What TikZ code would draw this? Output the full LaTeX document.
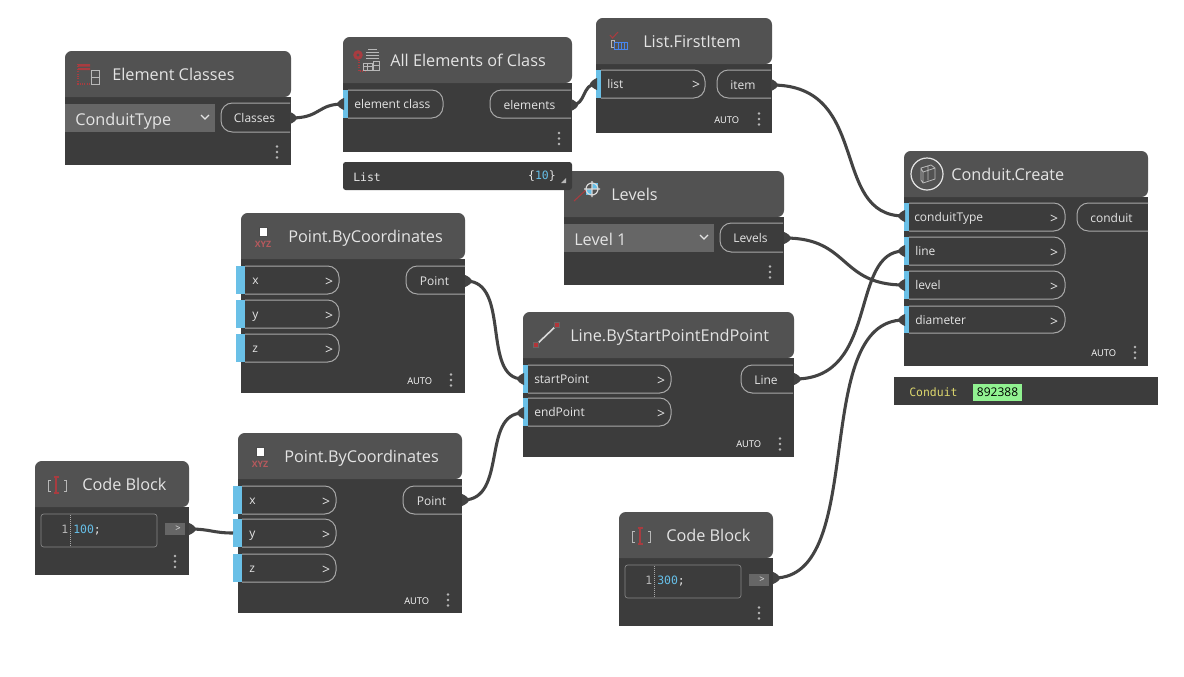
\documentclass[tikz,border=0pt]{standalone}
\usepackage{fontspec}
\setmainfont{Open Sans}
\setmonofont{DejaVu Sans Mono}
\definecolor{bodyc}{HTML}{3C3C3C}
\definecolor{headc}{HTML}{525252}
\definecolor{wirec}{HTML}{434343}
\definecolor{txtc}{HTML}{E4E4E4}
\definecolor{linec}{HTML}{A8A8A8}
\definecolor{barc}{HTML}{6AC0E7}
\definecolor{dropc}{HTML}{666666}
\definecolor{iconred}{HTML}{A83C40}
\definecolor{codeblue}{HTML}{66BFE8}
\definecolor{icongrey}{HTML}{B8B8B8}
\tikzset{
  nbody/.style={fill=bodyc},
  nhead/.style={fill=headc},
  ttl/.style={anchor=base west,inner sep=0pt,text=txtc,font=\fontsize{12.2}{14}\selectfont},
  porttxt/.style={anchor=base west,inner sep=0pt,text=txtc,font=\fontsize{9}{11}\selectfont},
  midtxt/.style={anchor=base,inner sep=0pt,text=txtc,font=\fontsize{9}{11}\selectfont},
  gt/.style={anchor=base,inner sep=0pt,text=txtc,font=\fontsize{10.5}{11}\selectfont},
  autotxt/.style={anchor=base west,inner sep=0pt,text=white,font=\fontsize{7}{9}\selectfont},
  droptxt/.style={anchor=base west,inner sep=0pt,text=txtc,font=\fontsize{12.2}{14}\selectfont},
  pill/.style={draw=linec,line width=.75pt,rounded corners=8.5pt},
  wire/.style={draw=wirec,line width=2.3pt},
  codetxt/.style={anchor=base west,inner sep=0pt,font=\ttfamily\fontsize{8.6}{10}\selectfont},
  ic/.style={draw=icongrey,line width=.7pt},
  icr/.style={draw=iconred,line width=.8pt},
}
% name x1 y1 x2 y2 headerbottom titlex title
\newcommand{\dnode}[8]{%
  \path[nbody] (#2,#6) rectangle (#4,#5);
  \path[nhead,rounded corners=5pt] (#2,#6) -- (#2,#3) -- (#4,#3) -- (#4,#6) [sharp corners] -- cycle;
  \node[ttl] (#1) at (#7,#3+29) {#8};
}
% name barx1 barx2 pillx2 y1 y2 text textx
\newcommand{\inpill}[8]{%
  \draw[pill] (#3,#5) -- (#4,#5) -- (#4,#6) -- (#3,#6);
  \fill[barc] (#2,#5) rectangle (#3,#6);
  \node[porttxt] (#1) at (#8,#5+18) {#7};
}
\newcommand{\gtmark}[3]{\node[gt] (#1) at (#2,#3) {>};}
% name x1 x2 y1 y2 text
\newcommand{\outpill}[6]{%
  \draw[pill] (#3,#4) -- (#2,#4) -- (#2,#5) -- (#3,#5);
  \node[midtxt] (#1) at ({(#2+#3)/2-1},#4+19) {#6};
}
\newcommand{\kdots}[2]{\foreach \kd in {-5.5,0,5.5} \fill[icongrey] (#1,#2+\kd) circle[radius=1.4];}
\newcommand{\autolab}[3]{\node[autotxt] (#1) at (#2,#3) {AUTO};}
\newcommand{\nubout}[3]{%
  \coordinate (#1) at (#2,#3);
  \fill[wirec] (#2-1,#3-6) .. controls (#2+2,#3-5) and (#2+6,#3-2) .. (#2+6,#3) .. controls (#2+6,#3+2) and (#2+2,#3+5) .. (#2-1,#3+6) -- cycle;
}
\newcommand{\nubin}[3]{%
  \coordinate (#1) at (#2,#3);
  \fill[wirec] (#2+1,#3-6) .. controls (#2-2,#3-5) and (#2-6,#3-2) .. (#2-6,#3) .. controls (#2-6,#3+2) and (#2-2,#3+5) .. (#2+1,#3+6) -- cycle;
}
\newcommand{\dropdown}[7]{% name x1 x2 y1 y2 textx text
  \fill[dropc] (#2,#4) rectangle (#3,#5);
  \node[droptxt] (#1) at (#6,#4+21) {#7};
  \draw[draw=txtc,line width=.9pt] (#3-14,#4+11) -- (#3-10,#4+15) -- (#3-6,#4+11);
}
\newcommand{\pointicon}[3]{%
  \fill[white] (#2-3.5,#3-4) rectangle (#2+3.5,#3+3.5);
  \draw[ic,draw=black!70,line width=.5pt] (#2-4,#3-4.5) rectangle (#2+4,#3+4);
  \node[inner sep=0pt,text=iconred!85!white,font=\bfseries\fontsize{6.6}{7}\selectfont] (#1) at (#2,#3+12) {XYZ};
}
\newcommand{\codeicon}[3]{% name x(red I) ytop
  \draw[ic] (#2-5,#3+3) -- (#2-7.5,#3+3) -- (#2-7.5,#3+14) -- (#2-5,#3+14);
  \draw[ic] (#2+8,#3+3) -- (#2+10.5,#3+3) -- (#2+10.5,#3+14) -- (#2+8,#3+14);
  \draw[icr,line width=1pt] (#2-2.5,#3) -- (#2+2.5,#3) (#2,#3) -- (#2,#3+16) (#2-2.5,#3+16) -- (#2+2.5,#3+16);
  \coordinate (#1) at (#2,#3);
}
\newcommand{\codebox}[8]{% name x1 x2 y1 y2 linenum text btn x1
  \draw[draw=linec!80!black,line width=.5pt,rounded corners=2pt] (#2,#4) rectangle (#3,#5);
  \draw[draw=linec,line width=.5pt,densely dotted] (#2+29,#4+1) -- (#2+29,#5-1);
  \node[codetxt,text=icongrey] (#1n) at (#2+20,#4+19) {#6};
  \node[codetxt,text=codeblue] (#1c) at (#2+32,#4+19) {#7\textcolor{txtc}{;}};
  \fill[dropc] (#8,#4+8.5) rectangle (#8+20,#4+21);
  \node[inner sep=0pt,text=txtc,font=\fontsize{7}{8}\selectfont] (#1b) at (#8+13,#4+14.5) {>};
}
\begin{document}
\begin{tikzpicture}[x=.75pt,y=-.75pt]
\useasboundingbox (0,0) rectangle (1184,676);
\fill[white] (0,0) rectangle (1184,676);

% ---- Element Classes
\dnode{ec}{65}{51}{291}{165}{97}{112}{Element Classes}
\dropdown{ecd}{65}{215}{104}{132}{75}{ConduitType}
\outpill{eco}{221}{290}{103}{132}{Classes}
\kdots{277}{152}
\nubout{ecn}{291}{118}
\fill[iconred] (78,64) rectangle (90,66.5) (78,68) rectangle (90,70);
\draw[icr,densely dotted] (78,64) -- (78,84) -- (90,84);
\draw[ic] (91,70) rectangle (99,84) (91,77) -- (99,77);

% ---- All Elements of Class
\dnode{ae}{343}{37}{572}{152}{83}{390}{All Elements of Class}
\inpill{aei}{343}{348}{443}{90}{118}{element class}{354}
\outpill{aeo}{490}{571}{90}{118}{elements}
\kdots{559}{138.5}
\nubin{aen}{343}{104}
\nubout{aeno}{572}{105}
\draw[icr,fill=iconred] (358,55) circle[radius=4.2];
\fill[headc] (358,55) circle[radius=1.7];
\draw[icr,densely dotted] (359,60) -- (359,71) -- (366,71);
\draw[ic] (366,52) -- (379,52) (366,55) -- (379,55) (366,58) -- (379,58) (368,49) -- (377,49);
\draw[ic] (363,63) rectangle (372,70) (367.5,63) -- (367.5,70) (363,66.5) -- (372,66.5);
\draw[ic] (373,61) rectangle (379,70) (373,65) -- (379,65);

% ---- List.FirstItem
\dnode{lf}{596}{18}{772}{133}{64}{643}{List.FirstItem}
\inpill{lfi}{596}{601}{705}{70}{98}{list}{607}
\gtmark{lfg}{696}{89}
\outpill{lfo}{717}{771}{70}{98}{item}
\autolab{lfa}{714}{123}
\kdots{759}{119}
\nubin{lfn}{596}{84}
\nubout{lfno}{772}{85}
\draw[icr] (610,35) -- (612.5,38) -- (618,32);
\draw[ic] (611,40) rectangle (614,47);
\draw[draw=codeblue!70!blue,line width=.7pt] (614,42) rectangle (627,49) (618,42) -- (618,49) (621,42) -- (621,49) (624,42) -- (624,49);

% ---- Levels
\dnode{lv}{564}{171}{784}{285}{217}{611}{Levels}
\dropdown{lvd}{564}{714}{224}{252}{574}{Level 1}
\outpill{lvo}{720}{783}{223}{252}{Levels}
\kdots{770}{272}
\nubout{lvn}{785}{238}
\draw[icr] (574,201) -- (586,190);
\fill[codeblue] (586,183) rectangle (598,195);
\fill[headc] (586,183) rectangle (592,189) (592,189) rectangle (598,195);
\draw[ic,draw=white!85!black,line width=.9pt] (592,189) circle[radius=6] (584,189) -- (600,189) (592,181) -- (592,197);

% ---- list preview (lies over the Levels node)
\fill[bodyc,rounded corners=2pt] (343,162) rectangle (572,190);
\node[codetxt,text=txtc] (lp) at (353,181) {List};
\node[codetxt,text=txtc,anchor=base east] (lpn) at (556,179) {\{\textcolor{codeblue}{10}\}};
\fill[icongrey] (566,178) -- (566,183) -- (561,183) -- cycle;

% ---- Point.ByCoordinates 1
\dnode{pa}{241}{213}{465}{393}{259}{288}{Point.ByCoordinates}
\inpill{pax}{236}{245}{339}{266}{294}{x}{252}
\inpill{pay}{236}{245}{339}{300}{328}{y}{252}
\inpill{paz}{236}{245}{339}{334}{362}{z}{252}
\gtmark{pag1}{329}{286}
\gtmark{pag2}{329}{320}
\gtmark{pag3}{329}{354}
\outpill{pao}{406}{465}{266}{294}{Point}
\autolab{paa}{407}{384}
\kdots{451}{380}
\nubout{pan}{466}{281}
\pointicon{pai}{263}{232}

% ---- Point.ByCoordinates 2
\dnode{pb}{238}{433}{462}{613}{479}{284}{Point.ByCoordinates}
\inpill{pbx}{233}{242}{336}{486}{514}{x}{249}
\inpill{pby}{233}{242}{336}{519}{547}{y}{249}
\inpill{pbz}{233}{242}{336}{554}{582}{z}{249}
\coordinate (pbyp) at (233,533);
\gtmark{pbg1}{326}{506}
\gtmark{pbg2}{326}{539}
\gtmark{pbg3}{326}{574}
\outpill{pbo}{403}{462}{486}{514}{Point}
\autolab{pba}{404}{604}
\kdots{448}{600}
\nubout{pbn}{463}{500}
\pointicon{pbi}{260}{452}

% ---- Line.ByStartPointEndPoint
\dnode{ln}{523}{312}{794}{457}{358}{570}{Line.ByStartPointEndPoint}
\inpill{lns}{523}{528}{671}{365}{393}{startPoint}{534}
\inpill{lne}{523}{528}{671}{398}{426}{endPoint}{534}
\gtmark{lng1}{661}{385}
\gtmark{lng2}{661}{418}
\outpill{lno}{741}{793}{365}{393}{Line}
\autolab{lna}{736}{447}
\kdots{780}{444}
\nubin{lnn1}{523}{379}
\nubin{lnn2}{523}{413}
\nubout{lnno}{795}{379}
\draw[draw=white!85!black,line width=1.2pt] (536,345) -- (557,325);
\draw[fill=iconred!90!red,draw=black!60,line width=.3pt] (533.5,342.5) rectangle (538,347) (554.5,322.5) rectangle (559,327);

% ---- Code Block 1
\dnode{ca}{35}{461}{189}{575}{507}{82}{Code Block}
\codebox{cab}{41}{157}{514}{547}{1}{100}{165}
\kdots{175}{561.5}
\nubout{can}{190}{529}
\codeicon{cai}{56}{477}

% ---- Code Block 2
\dnode{cc}{619}{512}{773}{626}{558}{666}{Code Block}
\codebox{ccb}{625}{741}{565}{598}{1}{300}{749}
\kdots{759}{613}
\nubout{ccn}{774}{578}
\codeicon{cci}{640}{528}

% ---- Conduit.Create
\dnode{cd}{904}{151}{1148}{366}{197}{951}{Conduit.Create}
\inpill{cdt}{904}{909}{1065}{203}{231}{conduitType}{914}
\inpill{cdl}{904}{909}{1065}{237}{265}{line}{915}
\inpill{cdv}{904}{909}{1065}{271}{299}{level}{915}
\inpill{cdd}{904}{909}{1065}{306}{333}{diameter}{915}
\gtmark{cdg1}{1054}{223}
\gtmark{cdg2}{1054}{257}
\gtmark{cdg3}{1054}{291}
\gtmark{cdg4}{1054}{326}
\outpill{cdo}{1077}{1148}{203}{231}{conduit}
\autolab{cda}{1091}{356}
\kdots{1135}{352.5}
\nubin{cdn1}{904}{216}
\nubin{cdn2}{904}{251}
\nubin{cdn3}{904}{285}
\nubin{cdn4}{904}{320}
\draw[draw=txtc,line width=.9pt] (927,174) circle[radius=16];
\draw[ic,line width=.6pt] (921,168) -- (931,165) -- (935,168) -- (935,179) -- (923,183) -- (921,180) -- cycle (921,168) -- (923,172) -- (935,168) (923,172) -- (923,183) (928,166) -- (928,180);

% ---- Conduit preview
\fill[bodyc] (894,377) rectangle (1158,405);
\node[codetxt,text=yellow!60!white!85!black] (cp) at (909,396.5) {Conduit};
\fill[green!40!white!95!black] (973,384) rectangle (1022,401);
\node[anchor=base,inner sep=0pt,text=black,font=\fontsize{9}{11}\selectfont] (cpv) at (997.5,396.5) {892388};

% ---- connectors
\draw[wire] (ecn) .. controls +(30,0) and +(-26,0) .. (aen);
\draw[wire] (aeno) .. controls +(14,0) and +(-14,0) .. (lfn);
\draw[wire] (lfno) .. controls +(100,0) and +(-75,0) .. (cdn1);
\draw[wire] (lvn) .. controls +(65,0) and +(-65,0) .. (cdn3);
\draw[wire] (pan) .. controls +(45,0) and +(-42,0) .. (lnn1);
\draw[wire] (pbn) .. controls +(45,0) and +(-42,0) .. (lnn2);
\draw[wire] (lnno) .. controls +(85,0) and +(-55,0) .. (cdn2);
\draw[wire] (can) .. controls +(20,0) and +(-20,0) .. (pbyp);
\draw[wire] (ccn) .. controls +(95,0) and +(-95,0) .. (cdn4);
\end{tikzpicture}
\end{document}
